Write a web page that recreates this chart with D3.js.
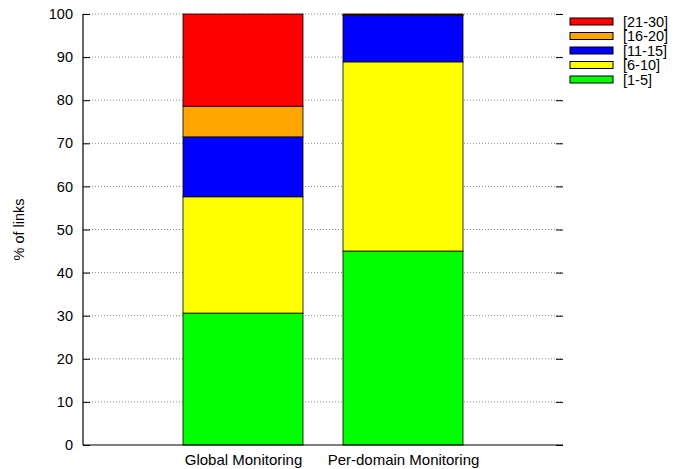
<!DOCTYPE html>
<html><head><meta charset="utf-8">
<script src="https://cdn.jsdelivr.net/npm/d3@7"></script>
<style>body{margin:0;background:#fff}svg{display:block}text{font-family:"Liberation Sans",Arial,sans-serif}</style>
</head><body><svg id="c" width="686" height="469"></svg>
<script>
const categories = ["Global Monitoring", "Per-domain Monitoring"];
const seriesNames = ["[1-5]", "[6-10]", "[11-15]", "[16-20]", "[21-30]"];
const seriesColors = ["#00ff00", "#ffff00", "#0000ff", "#ffa500", "#ff0000"];
const s1to5 = [30.6, 45.0];
const s6to10 = [27.0, 43.9];
const s11to15 = [13.9, 10.8];
const s16to20 = [7.1, 0.1];
const s21to30 = [21.4, 0.2];
const yTicks = [0, 10, 20, 30, 40, 50, 60, 70, 80, 90, 100];

const seriesVals = [s1to5, s6to10, s11to15, s16to20, s21to30];
const rows = categories.map((c, i) => {
  const r = {cat: c};
  seriesNames.forEach((n, j) => r[n] = seriesVals[j][i]);
  return r;
});
const stacked = d3.stack().keys(seriesNames)(rows);

const svg = d3.select("#c");
const L = 83, R = 563, T = 14, B = 445;
const x = d3.scaleLinear().domain([-1, 2]).range([L, R]);
const y = d3.scaleLinear().domain([0, 100]).range([B, T]);
const bw = (x(0.75) - x(0));

// grid
svg.append("g").selectAll("line").data(yTicks.filter(t => t > 0)).join("line")
  .attr("x1", L).attr("x2", R).attr("y1", d => y(d)).attr("y2", d => y(d))
  .attr("stroke", "#888").attr("stroke-width", 1).attr("stroke-dasharray", "1,2");

// bars
const g = svg.append("g");
stacked.forEach((s, j) => {
  g.selectAll(null).data(s).join("rect")
    .attr("x", (d, i) => x(i) - bw / 2)
    .attr("width", bw)
    .attr("y", d => y(d[1]))
    .attr("height", d => y(d[0]) - y(d[1]))
    .attr("fill", seriesColors[j])
    .attr("stroke", "#000").attr("stroke-opacity", 0.8).attr("stroke-width", 1);
});

// axes
const yAxis = d3.axisLeft(y).tickValues(yTicks).tickSize(-7).tickPadding(10);
const ya = svg.append("g").attr("transform", `translate(${L},0)`).call(yAxis);
ya.select(".domain").remove();
ya.selectAll("text").attr("font-size", 14.5).attr("fill", "#000").attr("font-family", "Liberation Sans, Arial, sans-serif");
ya.selectAll(".tick line").attr("stroke", "#000");
const yr = svg.append("g").attr("transform", `translate(${R},0)`).call(d3.axisRight(y).tickValues(yTicks).tickSize(-7).tickFormat(""));
yr.select(".domain").remove();
yr.selectAll(".tick line").attr("stroke", "#000");

svg.append("line").attr("x1", L).attr("x2", L).attr("y1", T).attr("y2", B).attr("stroke", "#000").attr("stroke-width", 1.2);
svg.append("line").attr("x1", L).attr("x2", R).attr("y1", B).attr("y2", B).attr("stroke", "#000").attr("stroke-width", 1.2);

const xa = svg.append("g").attr("transform", `translate(0,${B})`)
  .call(d3.axisBottom(x).tickValues(categories.map((c, i) => i)).tickFormat(i => categories[i]).tickSize(0).tickPadding(9));
xa.select(".domain").remove();
xa.selectAll("text").attr("font-size", 15).attr("fill", "#000").attr("font-family", "Liberation Sans, Arial, sans-serif");

// y label
svg.append("text").attr("transform", `translate(24,${(T + B) / 2}) rotate(-90)`)
  .attr("text-anchor", "middle").attr("font-size", 14.5).text("% of links");

// legend
const legendOrder = seriesNames.map((n, j) => j).reverse();
const lg = svg.append("g");
legendOrder.forEach((j, k) => {
  const yy = 21.5 + k * 14.5;
  lg.append("rect").attr("x", 570).attr("y", yy - 3.5).attr("width", 43).attr("height", 7)
    .attr("fill", seriesColors[j]).attr("stroke", "#000").attr("stroke-width", 1);
  lg.append("text").attr("x", 623).attr("y", yy).attr("dy", "0.35em")
    .attr("font-size", 14.5).text(seriesNames[j]);
});
</script></body></html>
